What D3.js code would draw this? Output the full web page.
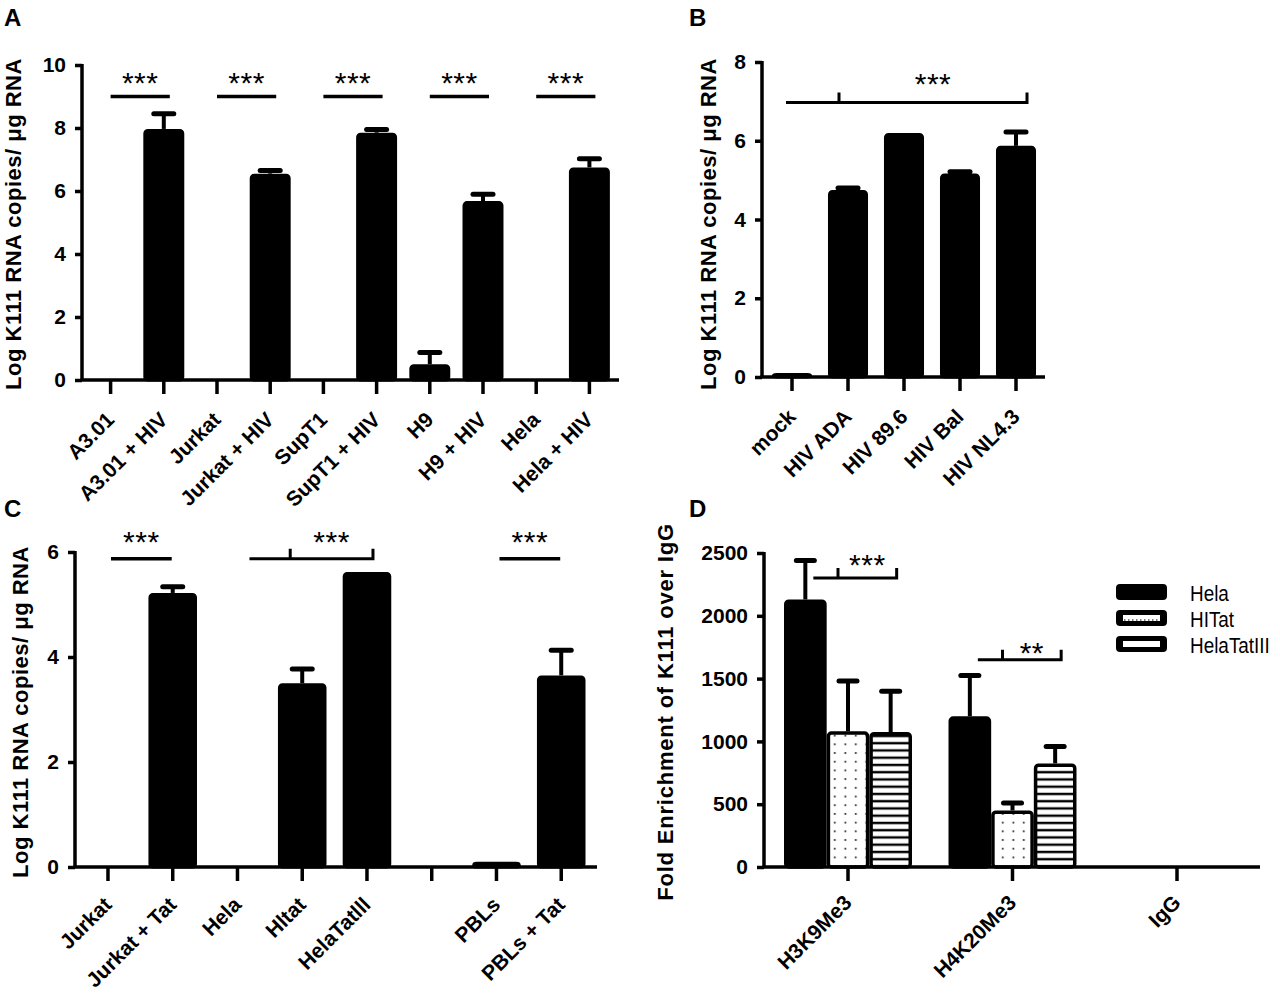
<!DOCTYPE html>
<html><head><meta charset="utf-8">
<script src="https://cdn.jsdelivr.net/npm/d3@7"></script>
<style>
body{margin:0;background:#fff}
svg{display:block}
text{font-family:"Liberation Sans",Arial,Helvetica,sans-serif;fill:#000}
</style>
</head><body>
<svg id="chart" width="1280" height="999"></svg>
<script>
// ---------------- DATA ----------------
// Panel A
const aCategories = ["A3.01","A3.01 + HIV","Jurkat","Jurkat + HIV","SupT1","SupT1 + HIV","H9","H9 + HIV","Hela","Hela + HIV"];
const aValues = [0, 7.97, 0, 6.55, 0, 7.85, 0.5, 5.68, 0, 6.75];
const aErrors = [0, 0.48, 0, 0.1, 0, 0.1, 0.37, 0.22, 0, 0.27];
const aTicks = [0, 2, 4, 6, 8, 10];
const aSigPairs = [[0,1],[2,3],[4,5],[6,7],[8,9]];
const aSigLevel = 9;
const aSigLabel = "***";

// Panel B
const bCategories = ["mock","HIV ADA","HIV 89.6","HIV Bal","HIV NL4.3"];
const bValues = [0.1, 4.75, 6.2, 5.17, 5.87];
const bErrors = [0, 0.05, 0, 0.04, 0.35];
const bTicks = [0, 2, 4, 6, 8];
const bBracket = [0, 1, 4];
const bSigLevel = 6.97;
const bSigLabel = "***";

// Panel C
const cCategories = ["Jurkat","Jurkat + Tat","Hela","Hltat","HelaTatlll","","PBLs","PBLs + Tat"];
const cValues = [0, 5.22, 0, 3.5, 5.62, 0, 0.1, 3.65];
const cErrors = [0, 0.12, 0, 0.27, 0, 0, 0, 0.48];
const cTicks = [0, 2, 4, 6];
const cSigPairs = [[0,1],[6,7]];
const cBracket = [2, 3, 4];
const cSigLevel = 5.87;
const cSigLabel = "***";

// Panel D
const dGroups = ["H3K9Me3","H4K20Me3","IgG"];
const dSeries = ["Hela","HITat","HelaTatIII"];
const dHela = [2130, 1200, 0];
const dHelaErr = [310, 325, 0];
const dHITat = [1080, 450, 0];
const dHITatErr = [400, 60, 0];
const dHelaTatIII = [1075, 825, 0];
const dHelaTatIIIErr = [325, 135, 0];
const dTicks = [0, 500, 1000, 1500, 2000, 2500];
const dBrackets = [[0, 1, 2, 2300, "***"], [1, 1, 2, 1650, "**"]];

// ---------------- DRAWING ----------------
const svg = d3.select("#chart");
const AX = 3.5;

const defs = svg.append("defs");
const dots = defs.append("pattern").attr("id","dots").attr("patternUnits","userSpaceOnUse")
  .attr("width",10.5).attr("height",8.7);
dots.append("rect").attr("width",10.5).attr("height",8.7).attr("fill","#fff");
dots.append("rect").attr("x",4.5).attr("y",4).attr("width",1.6).attr("height",1.6).attr("fill","#000");
const hl = defs.append("pattern").attr("id","hlines").attr("patternUnits","userSpaceOnUse")
  .attr("width",10).attr("height",7.25);
hl.append("rect").attr("width",10).attr("height",7.25).attr("fill","#fff");
hl.append("rect").attr("x",0).attr("y",2.5).attr("width",10).attr("height",2.4).attr("fill","#000");

function panelLetter(t, x, y){
  svg.append("text").attr("x",x).attr("y",y).attr("font-size",24).attr("font-weight","bold").text(t);
}
function yTitle(t, x, cy, ls){
  svg.append("text").attr("transform",`translate(${x},${cy}) rotate(-90)`)
    .attr("text-anchor","middle").attr("font-size",22).attr("font-weight","bold")
    .attr("letter-spacing",ls).text(t);
}

function axes(x, y, ticks, xStart, xEnd, labelDy){
  const y0 = y(0);
  const gy = svg.append("g").attr("transform",`translate(${xStart},0)`)
    .call(d3.axisLeft(y).tickValues(ticks).tickSize(7).tickPadding(9).tickFormat(d3.format("d")));
  gy.select(".domain").remove();
  gy.selectAll(".tick line").attr("stroke","#000").attr("stroke-width",AX);
  gy.selectAll(".tick text").attr("font-size",21).attr("font-weight","bold")
    .attr("font-family","Liberation Sans, Arial, sans-serif");
  const gx = svg.append("g").attr("transform",`translate(0,${y0})`)
    .call(d3.axisBottom(x).tickSize(14).tickSizeOuter(0));
  gx.select(".domain").remove();
  gx.selectAll(".tick line").attr("stroke","#000").attr("stroke-width",AX);
  gx.selectAll(".tick text").attr("font-size",21).attr("font-weight","bold")
    .attr("font-family","Liberation Sans, Arial, sans-serif")
    .attr("text-anchor","end").attr("x",null).attr("y",null).attr("dy",null)
    .attr("transform",`translate(5,${labelDy}) rotate(-45)`);
  svg.append("line").attr("x1",xStart).attr("x2",xStart).attr("y1",y(ticks[ticks.length-1])-1).attr("y2",y0)
    .attr("stroke","#000").attr("stroke-width",AX);
  svg.append("line").attr("x1",xStart-1.5).attr("x2",xEnd).attr("y1",y0).attr("y2",y0)
    .attr("stroke","#000").attr("stroke-width",AX);
}

function bars(x, y, cats, vals, errs, capW){
  const data = cats.map((c,i)=>({c, v:vals[i], e:errs[i]}));
  const bw = x.bandwidth();
  const g = svg.append("g");
  data.filter(d=>d.e>0).forEach(d=>{
    const cx = x(d.c)+bw/2;
    g.append("line").attr("x1",cx).attr("x2",cx).attr("y1",y(d.v)).attr("y2",y(d.v+d.e))
      .attr("stroke","#000").attr("stroke-width",4);
    g.append("line").attr("x1",cx-capW/2).attr("x2",cx+capW/2).attr("y1",y(d.v+d.e)).attr("y2",y(d.v+d.e))
      .attr("stroke","#000").attr("stroke-width",5).attr("stroke-linecap","round");
  });
  g.selectAll("rect.bar").data(data.filter(d=>d.v>0)).join("rect").attr("class","bar")
    .attr("x",d=>x(d.c)+1.5).attr("width",bw-3)
    .attr("y",d=>y(d.v)+1.5).attr("height",d=>y(0)-y(d.v)-1.5)
    .attr("rx",3).attr("fill","#000").attr("stroke","#000").attr("stroke-width",3);
}

function stars(label, cx, lineY, k){
  svg.append("text").attr("x",cx).attr("y",lineY - k + 17).attr("text-anchor","middle")
    .attr("font-size",30).attr("letter-spacing",0.5).text(label);
}
function sigLine(x1, x2, yy, label, k){
  svg.append("line").attr("x1",x1).attr("x2",x2).attr("y1",yy).attr("y2",yy)
    .attr("stroke","#000").attr("stroke-width",3.5);
  stars(label, (x1+x2)/2, yy, k);
}
function bracket(x1, xt, x2, yy, label, k){
  svg.append("path").attr("d",`M${x1},${yy}H${x2}V${yy-10}M${xt},${yy}V${yy-10}`)
    .attr("fill","none").attr("stroke","#000").attr("stroke-width",3);
  stars(label, (xt+x2)/2, yy, k);
}

// ---- Panel A ----
{
  const x = d3.scaleBand().domain(aCategories).range([84,616]).paddingInner(0.23).paddingOuter(0.115);
  const y = d3.scaleLinear().domain([0,10]).range([380,65]);
  const c = d => x(aCategories[d]) + x.bandwidth()/2;
  bars(x, y, aCategories, aValues, aErrors, 20);
  axes(x, y, aTicks, 82, 619, 41);
  aSigPairs.forEach(([i,j])=> sigLine(c(i), c(j)+6, y(aSigLevel), aSigLabel, 21));
  panelLetter("A", 4, 26);
  yTitle("Log K111 RNA copies/ μg RNA", 21, 224, 0.5);
}
// ---- Panel B ----
{
  const x = d3.scaleBand().domain(bCategories).range([764,1044]).paddingInner(0.285).paddingOuter(0.1425);
  const y = d3.scaleLinear().domain([0,8]).range([377,62]);
  const c = d => x(bCategories[d]) + x.bandwidth()/2;
  bars(x, y, bCategories, bValues, bErrors, 20);
  axes(x, y, bTicks, 762, 1045, 41);
  bracket(c(bBracket[0])-6, c(bBracket[1])-9, c(bBracket[2])+11, y(bSigLevel), bSigLabel, 26);
  panelLetter("B", 689, 26);
  yTitle("Log K111 RNA copies/ μg RNA", 716, 224, 0.5);
}
// ---- Panel C ----
{
  const x = d3.scaleBand().domain(cCategories).range([75.6,593.6]).paddingInner(0.25).paddingOuter(0.125);
  const y = d3.scaleLinear().domain([0,6]).range([867,552]);
  const c = d => x(cCategories[d]) + x.bandwidth()/2;
  bars(x, y, cCategories, cValues, cErrors, 20);
  axes(x, y, cTicks, 75, 597, 39);
  cSigPairs.forEach(([i,j])=> sigLine(c(i)+3, c(j)-1, y(cSigLevel), cSigLabel, 24));
  bracket(c(cBracket[0])+12, c(cBracket[1])-12, c(cBracket[2])+6, y(cSigLevel), cSigLabel, 24);
  panelLetter("C", 4, 517);
  yTitle("Log K111 RNA copies/ μg RNA", 28, 712, 0.5);
}
// ---- Panel D ----
{
  const x0 = d3.scaleBand().domain(dGroups).range([765.75,1259.25]).paddingInner(0.222).paddingOuter(0.111);
  const x1 = d3.scaleBand().domain(dSeries).range([0,x0.bandwidth()]);
  const y = d3.scaleLinear().domain([0,2500]).range([867,553]);
  const vals = [dHela, dHITat, dHelaTatIII];
  const errs = [dHelaErr, dHITatErr, dHelaTatIIIErr];
  const fills = ["#000","url(#dots)","url(#hlines)"];
  const bw = x1.bandwidth();
  const g = svg.append("g");
  dSeries.forEach((s,si)=>{
    dGroups.forEach((grp,gi)=>{
      const v = vals[si][gi], e = errs[si][gi];
      const cx = x0(grp)+x1(s)+bw/2;
      if(e>0){
        g.append("line").attr("x1",cx).attr("x2",cx).attr("y1",y(v)).attr("y2",y(v+e))
          .attr("stroke","#000").attr("stroke-width",4);
        g.append("line").attr("x1",cx-9).attr("x2",cx+9).attr("y1",y(v+e)).attr("y2",y(v+e))
          .attr("stroke","#000").attr("stroke-width",5).attr("stroke-linecap","round");
      }
    });
  });
  dSeries.forEach((s,si)=>{
    g.selectAll(null).data(dGroups.map((grp,gi)=>({grp, v:vals[si][gi]})).filter(d=>d.v>0))
      .join("rect")
      .attr("x",d=>x0(d.grp)+x1(s)+1.75).attr("width",bw-3.5)
      .attr("y",d=>y(d.v)+1.75).attr("height",d=>y(0)-y(d.v)-1.75)
      .attr("rx",3).attr("fill",fills[si]).attr("stroke","#000").attr("stroke-width",3.5);
  });
  axes(x0, y, dTicks, 764, 1260, 37);
  dBrackets.forEach(([gi, ti, ei, lvl, lab])=>{
    const grp = dGroups[gi];
    const cc = k => x0(grp)+x1(dSeries[k])+bw/2;
    bracket(cc(0)+8, cc(ti)-10, cc(ei)+6, y(lvl), lab, gi===0?20:14);
  });
  const lg = svg.append("g");
  const ly = [584, 610, 636];
  dSeries.forEach((s,i)=>{
    lg.append("rect").attr("x",1116).attr("y",ly[i]).attr("width",51).attr("height",16).attr("rx",4).attr("fill","#000");
    if(i>0){
      lg.append("rect").attr("x",1123).attr("y",ly[i]+5).attr("width",37).attr("height",6).attr("fill","#fff");
    }
    if(i===1){
      lg.append("line").attr("x1",1124).attr("x2",1159).attr("y1",ly[i]+10).attr("y2",ly[i]+10)
        .attr("stroke","#000").attr("stroke-width",1.2).attr("stroke-dasharray","1.5,2.5");
    }
    lg.append("text").attr("transform",`translate(1190,${ly[i]+17}) scale(0.86,1)`)
      .attr("font-size",22).text(s);
  });
  panelLetter("D", 689, 517);
  yTitle("Fold Enrichment of K111 over IgG", 673, 712, 0.8);
}
</script>
</body></html>
